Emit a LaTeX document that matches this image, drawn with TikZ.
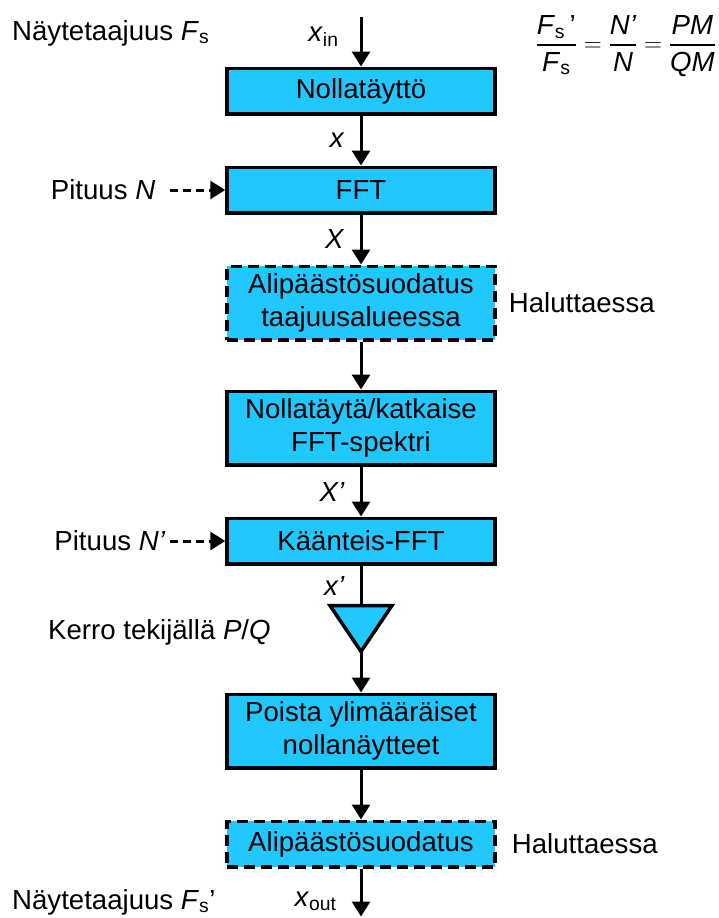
\documentclass[tikz,border=0pt]{standalone}
\usepackage{amsmath}
\usepackage{fontspec}
\setmainfont{Liberation Sans}
\usetikzlibrary{positioning,arrows.meta}

\definecolor{boxblue}{RGB}{33,199,255}
\newcommand{\fsym}{\text{\itshape F\/\textsubscript{\upshape s}}}

\tikzset{
    block/.style={draw, fill=boxblue, line width=3.5pt, minimum width=268pt,
        minimum height=45.5pt, inner sep=0pt, align=center},
    tallblock/.style={block, minimum height=73.5pt},
    optional/.style={dash pattern=on 11pt off 6pt},
    flow/.style={line width=3pt, -{Triangle[length=15pt,width=18pt]}},
    param/.style={flow, dash pattern=on 8pt off 5pt},
    sig/.style={left, inner sep=0pt, xshift=-15pt},
    txt/.style={inner sep=0pt},
}

\begin{document}
\begin{tikzpicture}[x=1pt, y=-1pt, font=\fontsize{27.6}{33}\selectfont]
    \useasboundingbox (0,0) rectangle (718,918);

    \node[block] (zeropad) at (361,91) {Nollatäyttö};
    \node[block, below=50pt of zeropad] (fft) {FFT};
    \node[tallblock, optional, below=50pt of fft] (lpfreq) {Alipäästösuodatus\\taajuusalueessa};
    \node[tallblock, below=48pt of lpfreq] (resize) {Nollatäytä/katkaise\\FFT-spektri};
    \node[block, below=50pt of resize] (ifft) {Käänteis-FFT};
    \coordinate[below=40pt of ifft] (gaintop);
    \coordinate[below=46pt of gaintop] (gaintip);
    \draw[line width=3.5pt, fill=boxblue] ([xshift=-31pt]gaintop) -- ([xshift=31pt]gaintop) -- (gaintip) -- cycle;
    \node[tallblock, below=41pt of gaintip] (strip) {Poista ylimääräiset\\nollanäytteet};
    \node[block, optional, below=50pt of strip] (lpout) {Alipäästösuodatus};
    \coordinate[above=49.5pt of zeropad] (in);
    \coordinate[below=48pt of lpout] (out);

    \draw[flow] (in) -- node[sig, pos=0.4, xshift=-6pt] {\textit{x}\textsubscript{in}} (zeropad);
    \draw[flow] (zeropad) -- node[sig] {\textit{x}} (fft);
    \draw[flow] (fft) -- node[sig] {\textit{X}} (lpfreq);
    \draw[flow] (lpfreq) -- (resize);
    \draw[flow] (resize) -- node[sig] {\textit{X’}} (ifft);
    \draw[line width=3pt] (ifft) -- node[sig] {\textit{x’}} (gaintop);
    \draw[flow] (gaintip) -- (strip);
    \draw[flow] (strip) -- (lpout);
    \draw[flow] (lpout) -- node[sig, pos=0.68, xshift=-8pt] {\textit{x}\textsubscript{out}} (out);

    \node[txt, anchor=base west] (fsin) at (12,40) {Näytetaajuus \textit{F}\textsubscript{s}};
    \node[txt, anchor=base west] (fsout) at (12,909) {Näytetaajuus \textit{F}\textsubscript{s}’};
    \node[txt, outer xsep=15pt, left=55pt of fft] (lenN) {Pituus \textit{N}};
    \draw[param] (lenN) -- (fft);
    \node[txt, outer xsep=5pt, left=55pt of ifft] (lenNb) {Pituus \textit{N’}};
    \draw[param] (lenNb) -- (ifft);
    \node[txt, anchor=base west] (gainlabel) at (48,639) {Kerro tekijällä \textit{P}/\textit{Q}};
    \node[txt, right=12pt of lpfreq] (opt1) {Haluttaessa};
    \node[txt, right=15pt of lpout] (opt2) {Haluttaessa};

    \node[txt, anchor=east] (ratio) at (716,46) {$\genfrac{}{}{2pt}{0}{\fsym\text{\,’}}{\fsym}
        = \genfrac{}{}{2pt}{0}{\text{\itshape N’}}{\text{\itshape N}}
        = \genfrac{}{}{2pt}{0}{\text{\itshape PM}}{\text{\itshape QM}}$};
\end{tikzpicture}
\end{document}
